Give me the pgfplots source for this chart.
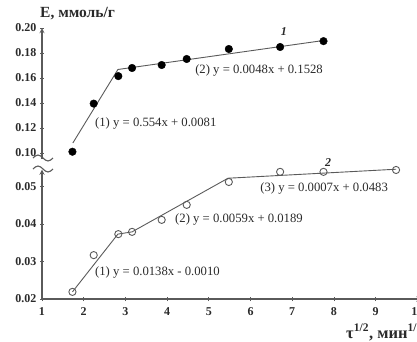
\documentclass[border=0pt]{standalone}
\usepackage{fontspec}
\setmainfont{Liberation Serif}
\usepackage{pgfplots}
\pgfplotsset{compat=1.18}
\definecolor{ln}{HTML}{5A5A5A}
\definecolor{tx}{HTML}{2A2A2A}
\pgfplotsset{
  brk/.style={
    scale only axis, width=379.5pt, xmin=1, xmax=10.1, clip=false,
    axis line style={-, draw=ln, line width=1.3pt},
    tick align=inside, major tick length=4pt,
    tick style={draw=ln, line width=0.8pt},
    scaled y ticks=false,
    ticklabel style={font=\fontsize{12}{14}\selectfont\bfseries, text=tx},
    yticklabel style={/pgf/number format/fixed, /pgf/number format/fixed zerofill, /pgf/number format/precision=2, /pgf/number format/assume math mode=true},
    xticklabel style={/pgf/number format/assume math mode=true, yshift=-3pt},
  },
}
\tikzset{eq/.style={font=\fontsize{12.7}{14}\selectfont, text=tx, anchor=west, inner sep=0pt}}
\begin{document}
\begin{tikzpicture}[x=1pt,y=1pt]
% lower panel
\begin{axis}[brk, at={(42pt,42pt)}, anchor=south west,
  height=129.4pt, ymin=0.02, ymax=0.0545,
  axis lines=left,
  xtick={1,2,3,4,5,6,7,8,9,10},
  ytick={0.02,0.03,0.04,0.05}]
\addplot[ln, line width=0.9pt] coordinates {(1.73,0.0219) (2.82,0.0373) (3.16,0.0379) (5.46,0.0522) (9.49,0.0546)};
\addplot[only marks, mark=o, mark size=3.6pt, mark options={draw=ln, fill=white, line width=0.9pt}] coordinates {
(1.73,0.0219) (2.24,0.0317) (2.83,0.0373) (3.16,0.0379) (3.87,0.0411) (4.47,0.0451) (5.48,0.0512) (6.71,0.0539) (7.75,0.0539) (9.49,0.0544)};
\node[eq] at (axis cs:2.27,0.0272) {(1) y = 0.0138x - 0.0010};
\node[eq] at (axis cs:4.19,0.0411) {(2) y = 0.0059x + 0.0189};
\node[eq] at (axis cs:6.23,0.0496) {(3) y = 0.0007x + 0.0483};
\node[font=\fontsize{12}{14}\selectfont\bfseries\itshape, text=tx, inner sep=0pt] at (axis cs:7.86,0.0563) {2};
\end{axis}
% upper panel
\begin{axis}[brk, at={(42pt,182.4pt)}, anchor=south west,
  height=130.6pt, ymin=0.0955, ymax=0.20,
  axis y line=left, axis x line=none,
  ytick={0.10,0.12,0.14,0.16,0.18,0.20}]
\addplot[ln, line width=0.9pt] coordinates {(1.74,0.108) (2.82,0.1668) (7.75,0.1900)};
\addplot[only marks, mark=*, mark size=3.8pt, mark options={draw=black, fill=black}] coordinates {
(1.73,0.101) (2.24,0.1395) (2.83,0.1615) (3.16,0.168) (3.87,0.1704) (4.47,0.1752) (5.48,0.1832) (6.71,0.1848) (7.75,0.1895)};
\node[eq] at (axis cs:2.27,0.124) {(1) y = 0.554x + 0.0081};
\node[eq] at (axis cs:4.67,0.1664) {(2) y = 0.0048x + 0.1528};
\node[font=\fontsize{12}{14}\selectfont\bfseries\itshape, text=tx, inner sep=0pt] at (axis cs:6.80,0.1968) {1};
\end{axis}
% axis break marks
\draw[ln, line width=1.1pt] (33,183) sin (38,186) cos (43,183) sin (48,180) cos (53,183);
\draw[ln, line width=1.1pt] (33,172) sin (38,175) cos (43,172) sin (48,169) cos (53,172);
% titles
\node[anchor=west, font=\fontsize{15.5}{17}\selectfont\bfseries, text=tx, inner sep=0pt] at (40,327) {E, ммоль/г};
\node[anchor=base west, font=\fontsize{16.5}{18}\selectfont\bfseries, text=tx, inner sep=0pt] at (346,3) {τ\textsuperscript{1/2}, мин\textsuperscript{1/2}};
\pgfresetboundingbox
\path[use as bounding box] (0,0) rectangle (417,341);
\end{tikzpicture}
\end{document}
